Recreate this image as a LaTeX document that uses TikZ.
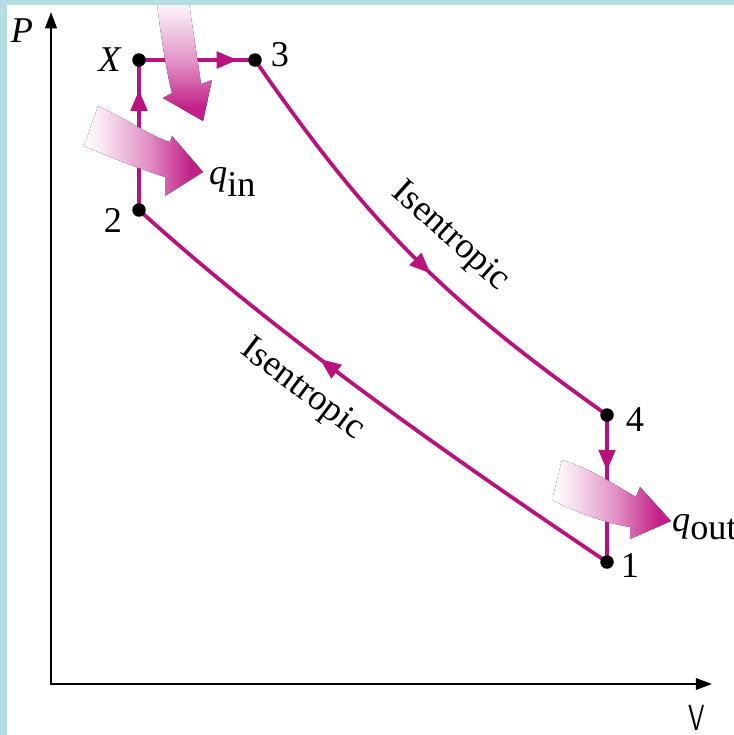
\documentclass[tikz,border=0pt]{standalone}
\usepackage{fontspec}
\setmainfont{Liberation Serif}
\usepackage{tikz}
\usetikzlibrary{arrows.meta,decorations.markings}
\definecolor{cyclemag}{HTML}{BA127D}
\definecolor{heatmag}{HTML}{C21F88}
\definecolor{framebg}{HTML}{B6DEE2}
\pgfdeclarehorizontalshading{heatfadeh}{100bp}{color(0bp)=(white); color(25bp)=(white); color(33bp)=(heatmag!12); color(52bp)=(heatmag!50); color(70bp)=(heatmag); color(100bp)=(heatmag)}
\pgfdeclareverticalshading{heatfadev}{100bp}{color(0bp)=(heatmag); color(30bp)=(heatmag); color(48bp)=(heatmag!50); color(67bp)=(heatmag!12); color(75bp)=(white); color(100bp)=(white)}

\begin{document}
\begin{tikzpicture}[
    x=0.4pt, y=-0.4pt,
    font=\fontsize{14.5}{17}\selectfont,
    axisline/.style={line width=0.9pt, line join=miter, {Triangle[length=6.5pt,width=4.6pt]}-{Triangle[length=6.5pt,width=4.6pt]}},
    cycleline/.style={line width=1.5pt, color=cyclemag},
    flowmark/.style={postaction={decorate}, decoration={markings, mark=at position #1 with {\arrow{Triangle[length=8.4pt,width=6.6pt]}}}},
    dotpt/.style={circle, fill=black, inner sep=0pt, minimum size=5.4pt},
    heatarrow/.style={draw=none}
]
    \useasboundingbox (0,0) rectangle (734,735);

    % Axes
    \coordinate (orig) at (51,684);
    \coordinate (ytip) at (51,12);
    \coordinate (xtip) at (712,684);
    \draw[axisline] (ytip) -- (orig) -- (xtip);
    \node (labP) at (22,31) {\textit{P}};
    \node (labV) at (697,718) {\sffamily\scalebox{0.7}[1]{V}};

    % State points
    \coordinate (ptX) at (139,60);
    \coordinate (pt3) at (255,60);
    \coordinate (pt2) at (139,210);
    \coordinate (pt4) at (607,415);
    \coordinate (pt1) at (607,562);

    % Cycle
    \draw[cycleline, flowmark=0.6] (pt1) .. controls (427,441) and (268,327) .. (pt2);
    \draw[cycleline, flowmark=0.8] (pt2) -- (ptX);
    \draw[cycleline, flowmark=0.85] (ptX) -- (pt3);
    \draw[cycleline, flowmark=0.55] (pt3) .. controls (370,226) and (445,300) .. (pt4);
    \draw[cycleline, flowmark=0.38] (pt4) -- (pt1);

    % Heat in / out
    \fill[heatarrow, shading=heatfadev]
        (156,-5) .. controls (160,30) and (165,65) .. (172,93) -- (163,98) -- (203,121) -- (212,80)
        -- (201,84) .. controls (197,55) and (192,25) .. (188,-5) -- cycle;
    \fill[heatarrow, shading=heatfadeh]
        (98,106) .. controls (125,118) and (150,136) .. (170,142) -- (172,136) -- (203,172) -- (165,196)
        -- (165,177) .. controls (140,169) and (112,158) .. (84,146) -- cycle;
    \fill[heatarrow, shading=heatfadeh]
        (562,460) .. controls (590,468) and (615,485) .. (636,497) -- (640,487) -- (671,521) -- (630,539)
        -- (630,527) .. controls (605,523) and (578,513) .. (552,500) -- cycle;

    \node[dotpt] (dotX) at (ptX) {};
    \node[dotpt] (dot3) at (pt3) {};
    \node[dotpt] (dot2) at (pt2) {};
    \node[dotpt] (dot4) at (pt4) {};
    \node[dotpt] (dot1) at (pt1) {};

    % Labels
    \node (labX) at (110,60) {\textit{X}};
    \node (lab3) at (280,55) {3};
    \node (lab2) at (113,220) {2};
    \node (lab4) at (635,420) {4};
    \node (lab1) at (630,566) {1};
    \node (labqin) at (233,182) {\textit{q}$_{\textrm{in}}$};
    \node (labqout) at (705,527) {\textit{q}$_{\textrm{out}}$};
    \node[rotate=-42] (isenA) at (450,237) {Isentropic};
    \node[rotate=-37] (isenB) at (302,390) {Isentropic};

    % Frame
    \fill[framebg] (0,0) rectangle (734,5);
    \fill[framebg] (0,0) rectangle (7,735);
\end{tikzpicture}
\end{document}
